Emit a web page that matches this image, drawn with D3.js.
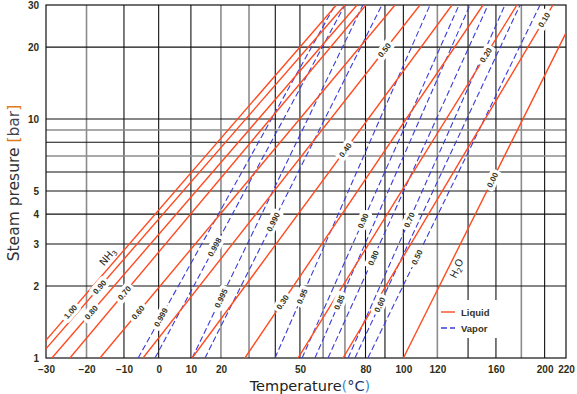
<!DOCTYPE html>
<html><head><meta charset="utf-8">
<script src="https://cdn.jsdelivr.net/npm/d3@7"></script>
<style>body{margin:0;background:#fff}svg{display:block}</style>
</head><body>
<svg id="c" width="577" height="394"></svg>
<script>
// ---------- data ----------
const tempTicks = [-30,-20,-10,0,10,20,50,80,100,120,160,200,220];
const tempGridBlack = [-10,0,10,40,50,80,90,100,140,160,200];
const tempGridGray = [-20,20,30,60,70,120,180];
const presTicks = [1,2,3,4,5,10,20,30];
const presGridBlack = [2,3,4,5,6,8,10,20];
const presGridGray = [7,9];

const liquidLabels = ["1.00","0.90","0.80","0.70","0.60","0.50","0.40","0.30","0.20","0.10","0.00"];
const liquidT1  = [-33.6,-31.9,-28.6,-24.2,-16.5,-4.6,10.4,28.5,49.2,69.1,100];   // temperature at 1 bar
const liquidT30 = [66,70,75.8,80.2,95.4,109.5,129.3,150.5,176.4,207.6,234];       // temperature at 30 bar
const liquidLabelP = [1.56,1.98,1.55,1.87,1.55,19.4,7.42,1.71,18.5,26.0,5.56];

const vaporLabels = ["0.999","0.998","0.995","0.990","0.95","0.90","0.85","0.80","0.70","0.60","0.50"];
const vaporT1  = [-6.0,-1.1,10.4,14.6,39.9,50.9,56.4,62.2,71.5,74.8,81.2];
const vaporT30 = [65.4,70.0,78.7,88.4,115.5,133.9,141.3,154.1,166.9,178.9,195.9];
const vaporLabelP = [1.48,2.91,1.78,3.71,1.81,3.75,1.71,2.62,3.78,1.67,2.64];

const speciesLabels = [{name:"NH", sub:"3", idx:0, p:2.52, side:-1},
                       {name:"H", sub:"2", tail:"O", idx:10, p:2.45, side:1}];

// ---------- layout ----------
const L = 46, R = 566, T = 5, B = 358;
const svg = d3.select("#c");
const toU = t => -1/(t+273.15);
const xu = d3.scaleLinear().domain([toU(-30), toU(220)]).range([L, R]);
const x = t => xu(toU(t));
const y = d3.scaleLog().domain([1,30]).range([B, T]);

svg.append("defs").append("clipPath").attr("id","clip")
  .append("rect").attr("x",L).attr("y",T).attr("width",R-L).attr("height",B-T);

// grid
const g = svg.append("g");
g.selectAll(".vg").data(tempGridGray).enter().append("line")
  .attr("x1",d=>x(d)).attr("x2",d=>x(d)).attr("y1",T).attr("y2",B)
  .attr("stroke","#8c8c8c").attr("stroke-width",1.6);
g.selectAll(".vb").data(tempGridBlack).enter().append("line")
  .attr("x1",d=>x(d)).attr("x2",d=>x(d)).attr("y1",T).attr("y2",B)
  .attr("stroke","#111").attr("stroke-width",1.1);
g.selectAll(".hg").data(presGridGray).enter().append("line")
  .attr("x1",L).attr("x2",R).attr("y1",d=>y(d)).attr("y2",d=>y(d))
  .attr("stroke","#8c8c8c").attr("stroke-width",1.6);
g.selectAll(".hb").data(presGridBlack).enter().append("line")
  .attr("x1",L).attr("x2",R).attr("y1",d=>y(d)).attr("y2",d=>y(d))
  .attr("stroke","#111").attr("stroke-width",1.1);
g.append("rect").attr("x",L).attr("y",T).attr("width",R-L).attr("height",B-T)
  .attr("fill","none").attr("stroke","#111").attr("stroke-width",1.2);

// lines
const lines = svg.append("g").attr("clip-path","url(#clip)");
function seg(t1,t30){ return {x1:x(t1), y1:y(1), x2:x(t30), y2:y(30)}; }
const liq = liquidT1.map((t,i)=>seg(t, liquidT30[i]));
const vap = vaporT1.map((t,i)=>seg(t, vaporT30[i]));
lines.selectAll(".v").data(vap).enter().append("line")
  .attr("x1",d=>d.x1).attr("y1",d=>d.y1).attr("x2",d=>d.x2).attr("y2",d=>d.y2)
  .attr("stroke","#3b3bd8").attr("stroke-width",1.1).attr("stroke-dasharray","6,3");
lines.selectAll(".l").data(liq).enter().append("line")
  .attr("x1",d=>d.x1).attr("y1",d=>d.y1).attr("x2",d=>d.x2).attr("y2",d=>d.y2)
  .attr("stroke","#ff4a1f").attr("stroke-width",1.4);

// labels on lines
function pointAt(s, p){
  const yy = y(p);
  const f = (yy - s.y1)/(s.y2 - s.y1);
  return {x: s.x1 + f*(s.x2-s.x1), y: yy, a: Math.atan2(s.y2-s.y1, s.x2-s.x1)*180/Math.PI};
}
const lab = svg.append("g");
function addLabel(s, p, text){
  const pt = pointAt(s,p);
  const gg = lab.append("g").attr("transform",`translate(${pt.x},${pt.y}) rotate(${pt.a})`);
  const bg = gg.append("rect").attr("fill","#fff");
  const t = gg.append("text").text(text).attr("text-anchor","middle").attr("dy","0.35em")
    .attr("font-family","Liberation Sans, Arial, sans-serif").attr("font-size",8).attr("font-weight","bold")
    .attr("fill","#333322");
  const w = t.node().getComputedTextLength();
  bg.attr("x",-w/2-3).attr("y",-6).attr("width",w+6).attr("height",12).attr("rx",3);
}
liquidLabels.forEach((s,i)=>addLabel(liq[i], liquidLabelP[i], s));
vaporLabels.forEach((s,i)=>addLabel(vap[i], vaporLabelP[i], s));

speciesLabels.forEach(d=>{
  const s = liq[d.idx];
  const pt = pointAt(s, d.p);
  const ar = pt.a*Math.PI/180;
  const off = 8*d.side;
  const px = pt.x - Math.sin(ar)*off, py = pt.y + Math.cos(ar)*off;
  const t = lab.append("text").attr("transform",`translate(${px},${py}) rotate(${pt.a})`)
    .attr("text-anchor","middle").attr("dy","0.35em")
    .attr("font-family","DejaVu Sans, sans-serif").attr("font-size",10).attr("fill","#222");
  t.append("tspan").text(d.name);
  t.append("tspan").text(d.sub).attr("font-size",7).attr("dy","0.3em");
  if (d.tail) t.append("tspan").text(d.tail).attr("dy","-0.3em");
});

// axes
const xAxis = d3.axisBottom(xu).tickValues(tempTicks.map(toU))
  .tickFormat(u => d3.format("d")(Math.round(-1/u - 273.15))).tickSize(0).tickPadding(8);
const ax = svg.append("g").attr("transform",`translate(0,${B})`).call(xAxis);
const yAxis = d3.axisLeft(y).tickValues(presTicks).tickFormat(d3.format("d")).tickSize(0).tickPadding(7);
const ay = svg.append("g").attr("transform",`translate(${L},0)`).call(yAxis);
[ax,ay].forEach(a=>{
  a.select(".domain").remove();
  a.selectAll("text").attr("font-family","Liberation Sans, Arial, sans-serif")
   .attr("font-size",10).attr("font-weight","bold").attr("fill","#2e2e14");
});

// axis titles
const yt = svg.append("text").attr("transform","translate(19,183) rotate(-90)")
  .attr("text-anchor","middle").attr("font-family","DejaVu Sans, sans-serif")
  .attr("font-size",15.5).attr("fill","#333");
yt.append("tspan").text("Steam presure ");
yt.append("tspan").text("[").attr("fill","#e07a20");
yt.append("tspan").text("bar").attr("fill","#444455");
yt.append("tspan").text("]").attr("fill","#e07a20");

const xt = svg.append("text").attr("x",310).attr("y",391)
  .attr("text-anchor","middle").attr("font-family","DejaVu Sans, sans-serif")
  .attr("font-size",14.5).attr("fill","#222");
xt.append("tspan").text("Temperature");
xt.append("tspan").text("(").attr("fill","#3a90d0");
xt.append("tspan").text("°C").attr("fill","#223366");
xt.append("tspan").text(")").attr("fill","#3a90d0");

// legend
const lg = svg.append("g");
lg.append("rect").attr("x",441).attr("y",300).attr("width",62).attr("height",38).attr("fill","#fff");
const legendItems = [{name:"Liquid", color:"#ff4a1f", dash:null},{name:"Vapor", color:"#3b3bd8", dash:"6,3"}];
legendItems.forEach((d,i)=>{
  const yy = 312 + i*16;
  lg.append("line").attr("x1",441).attr("x2",455).attr("y1",yy).attr("y2",yy)
    .attr("stroke",d.color).attr("stroke-width",1.4).attr("stroke-dasharray",d.dash);
  lg.append("text").attr("x",461).attr("y",yy+3.5).text(d.name)
    .attr("font-family","Liberation Sans, Arial, sans-serif").attr("font-size",9.5)
    .attr("font-weight","bold").attr("fill","#333322");
});
</script>
</body></html>
